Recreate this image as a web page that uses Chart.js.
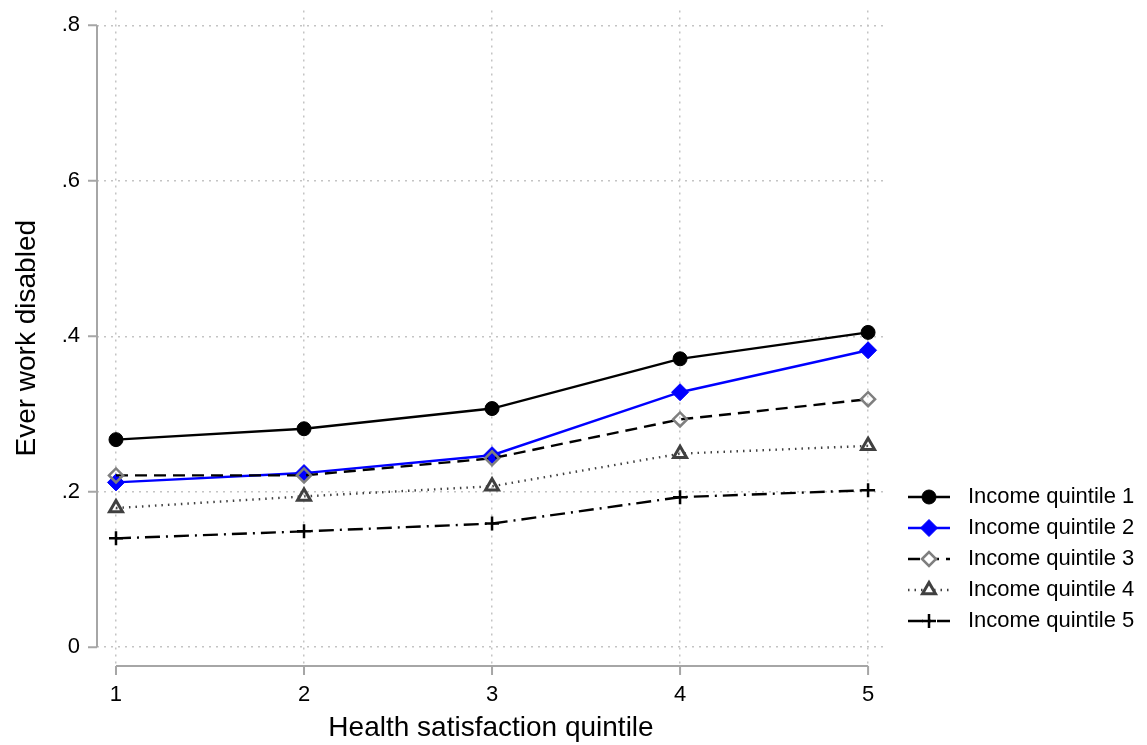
<!DOCTYPE html>
<html>
<head>
<meta charset="utf-8">
<script src="https://cdn.jsdelivr.net/npm/chart.js@4/dist/chart.umd.min.js"></script>
<style>
  html, body { margin: 0; padding: 0; background: #fff; }
  #wrap { width: 1147px; height: 745px; }
</style>
</head>
<body>
<div id="wrap"><canvas id="chart" width="1147" height="745"></canvas></div>
<script>
// data
const categories = [1, 2, 3, 4, 5];
const xTickLabels = ["1", "2", "3", "4", "5"];
const yTicks = [0, 0.2, 0.4, 0.6, 0.8];
const yTickLabels = ["0", ".2", ".4", ".6", ".8"];
const seriesNames = ["Income quintile 1", "Income quintile 2", "Income quintile 3", "Income quintile 4", "Income quintile 5"];
const q1 = [0.267, 0.281, 0.307, 0.371, 0.405];
const q2 = [0.212, 0.224, 0.247, 0.328, 0.382];
const q3 = [0.221, 0.221, 0.243, 0.293, 0.319];
const q4 = [0.179, 0.194, 0.207, 0.249, 0.259];
const q5 = [0.140, 0.149, 0.159, 0.193, 0.202];

const FONT = "Arial, 'Liberation Sans', sans-serif";
const AXIS_GREY = "#a6a6a6";
const GRID_GREY = "#c4c4c4";

function pts(vals) {
    return vals.map((v, i) => ({ x: categories[i], y: v }));
}

const styles = [
    { color: "#000000", dash: [], point: "circle", radius: 7, pColor: "#000000", fill: true, pWidth: 1 },
    { color: "#0000ff", dash: [], point: "rectRot", radius: 8.5, pColor: "#0000ff", fill: true, pWidth: 1 },
    { color: "#000000", dash: [12, 7], point: "rectRot", radius: 7, pColor: "#7f7f7f", fill: false, pWidth: 2.5 },
    { color: "#404040", dash: [1.5, 5], point: "triangle", radius: 7.5, pColor: "#404040", fill: false, pWidth: 3 },
    { color: "#000000", dash: [15, 6, 2, 6], point: "cross", radius: 7, pColor: "#000000", fill: false, pWidth: 2.5 }
];

const allSeries = [q1, q2, q3, q4, q5];

const datasets = allSeries.map((vals, i) => ({
    label: seriesNames[i],
    data: pts(vals),
    borderColor: styles[i].color,
    borderWidth: 2.4,
    borderDash: styles[i].dash,
    pointStyle: styles[i].point,
    pointRadius: styles[i].radius,
    pointBorderColor: styles[i].pColor,
    pointBackgroundColor: styles[i].fill ? styles[i].pColor : "rgba(0,0,0,0)",
    pointBorderWidth: styles[i].pWidth,
    order: 5 - i,
    tension: 0,
    clip: false
}));

// stata style axes: lines only between first and last tick, ticks outside
const stataAxes = {
    id: "stataAxes",
    afterDraw(chart) {
        const ctx = chart.ctx;
        const xs = chart.scales.x, ys = chart.scales.y;
        const area = chart.chartArea;
        ctx.save();
        ctx.strokeStyle = AXIS_GREY;
        ctx.lineWidth = 2;
        ctx.setLineDash([]);
        // y axis
        const ax = area.left;
        ctx.beginPath();
        ctx.moveTo(ax, ys.getPixelForValue(yTicks[yTicks.length - 1]));
        ctx.lineTo(ax, ys.getPixelForValue(yTicks[0]));
        yTicks.forEach(t => {
            const py = ys.getPixelForValue(t);
            ctx.moveTo(ax - 9, py);
            ctx.lineTo(ax, py);
        });
        ctx.stroke();
        // x axis
        const ay = area.bottom;
        ctx.beginPath();
        ctx.moveTo(xs.getPixelForValue(categories[0]), ay);
        ctx.lineTo(xs.getPixelForValue(categories[categories.length - 1]), ay);
        categories.forEach(c => {
            const px = xs.getPixelForValue(c);
            ctx.moveTo(px, ay);
            ctx.lineTo(px, ay + 9);
        });
        ctx.stroke();
        ctx.restore();
    }
};

// legend with line + marker, drawn at the right
const sideLegend = {
    id: "sideLegend",
    afterDraw(chart) {
        const ctx = chart.ctx;
        const x0 = 908, x1 = 950, tx = 968;
        let y = 497;
        ctx.save();
        chart.data.datasets.forEach(ds => {
            ctx.strokeStyle = ds.borderColor;
            ctx.lineWidth = ds.borderWidth;
            ctx.setLineDash(ds.borderDash);
            ctx.beginPath();
            ctx.moveTo(x0, y);
            ctx.lineTo(x1, y);
            ctx.stroke();
            ctx.setLineDash([]);
            ctx.strokeStyle = ds.pointBorderColor;
            ctx.fillStyle = ds.pointBackgroundColor;
            ctx.lineWidth = ds.pointBorderWidth;
            if (ds.pointBackgroundColor === "rgba(0,0,0,0)") {
                ctx.fillStyle = "#ffffff";
            }
            Chart.helpers.drawPoint(ctx, {
                pointStyle: ds.pointStyle,
                radius: ds.pointRadius,
                rotation: 0,
                borderWidth: ds.pointBorderWidth
            }, (x0 + x1) / 2, y);
            ctx.fillStyle = "#000000";
            ctx.font = "22px " + FONT;
            ctx.textBaseline = "middle";
            ctx.textAlign = "left";
            ctx.fillText(ds.label, tx, y);
            y += 31;
        });
        ctx.restore();
    }
};

const ctx = document.getElementById("chart").getContext("2d");

new Chart(ctx, {
    type: "line",
    data: { datasets: datasets },
    plugins: [stataAxes, sideLegend],
    options: {
        responsive: false,
        animation: false,
        layout: { padding: { left: 0, top: 5, right: 262, bottom: 0 } },
        plugins: {
            legend: { display: false },
            tooltip: { enabled: false }
        },
        scales: {
            x: {
                type: "linear",
                min: 0.899,
                max: 5.09,
                afterFit(scale) {
                    scale.height = 79;
                    scale.paddingLeft = 0;
                    scale.paddingRight = 0;
                },
                afterBuildTicks(scale) { scale.ticks = categories.map(v => ({ value: v })); },
                border: { display: false, dash: [2, 5] },
                grid: {
                    color: GRID_GREY,
                    lineWidth: 1.5,
                    drawTicks: false
                },
                ticks: {
                    padding: 16,
                    color: "#000",
                    font: { family: FONT, size: 22 },
                    callback: (v) => xTickLabels[categories.indexOf(v)]
                },
                title: {
                    display: true,
                    text: "Health satisfaction quintile",
                    color: "#000",
                    font: { family: FONT, size: 28 },
                    padding: { top: 0, bottom: 0 }
                }
            },
            y: {
                type: "linear",
                min: -0.0242,
                max: 0.8191,
                afterFit(scale) {
                    scale.width = 97;
                    scale.paddingTop = 0;
                    scale.paddingBottom = 0;
                },
                afterBuildTicks(scale) { scale.ticks = yTicks.map(v => ({ value: v })); },
                border: { display: false, dash: [2, 5] },
                grid: {
                    color: GRID_GREY,
                    lineWidth: 1.5,
                    drawTicks: false
                },
                ticks: {
                    padding: 17,
                    color: "#000",
                    font: { family: FONT, size: 22 },
                    callback: (v) => yTickLabels[yTicks.indexOf(v)]
                },
                title: {
                    display: true,
                    text: "Ever work disabled",
                    color: "#000",
                    font: { family: FONT, size: 28 },
                    padding: { top: 10, bottom: 0 }
                }
            }
        }
    },
});
</script>
</body>
</html>
